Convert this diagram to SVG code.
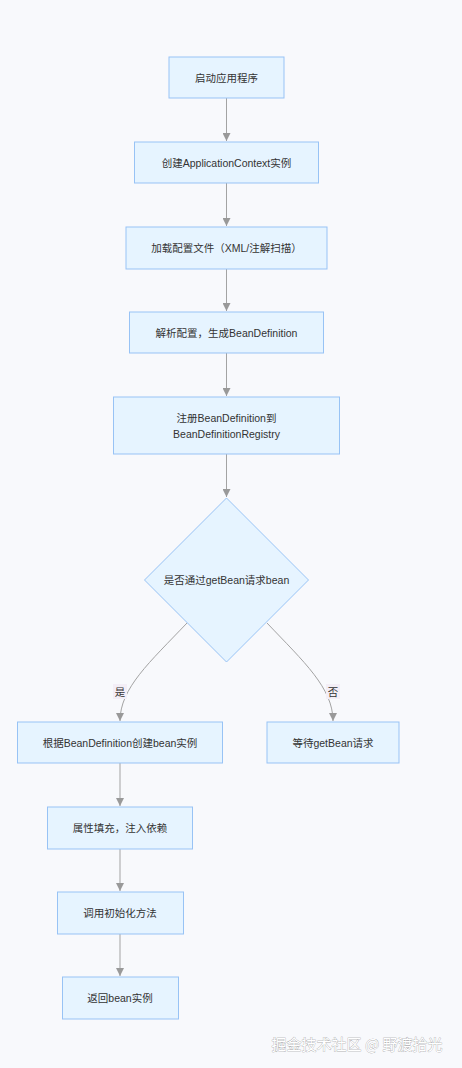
<svg xmlns="http://www.w3.org/2000/svg" width="462" height="1068" viewBox="0 0 462 1068">
<style>
.bg{fill:#f8f9fc}
.n{fill:#e6f4ff;stroke:#98c3f5;stroke-width:1}
.t{font-family:"Liberation Sans","Noto Sans CJK SC",sans-serif;font-size:10.5px;fill:#333;text-anchor:middle;dominant-baseline:central}
.e{fill:none;stroke:#a3a3a3;stroke-width:1}
.lb{fill:#f3eef6}
.wm{font-family:"Noto Sans CJK SC",sans-serif;font-size:15px;fill:#fff;stroke:#8c8c8c;stroke-width:0.5;paint-order:stroke;text-anchor:middle;dominant-baseline:central}
</style>
<defs>
<marker id="ah" viewBox="0 0 10 10" refX="10" refY="5" markerWidth="8" markerHeight="8" orient="auto" markerUnits="userSpaceOnUse">
<path d="M0,0 L10,5 L0,10 z" fill="#999"/>
</marker>
</defs>
<rect class="bg" x="0" y="0" width="462" height="1068"/>
<g id="connectors">
<path class="e" d="M226.5,98 L226.5,141" marker-end="url(#ah)"/>
<path class="e" d="M226.5,183 L226.5,226" marker-end="url(#ah)"/>
<path class="e" d="M226.5,269 L226.5,311" marker-end="url(#ah)"/>
<path class="e" d="M226.5,353 L226.5,396" marker-end="url(#ah)"/>
<path class="e" d="M226.5,454 L226.5,497" marker-end="url(#ah)"/>
<path class="e" d="M187,623 C150,662 120,688 120,721" marker-end="url(#ah)"/>
<path class="e" d="M267,623 C304,662 333,688 333,721" marker-end="url(#ah)"/>
<path class="e" d="M120,763 L120,806" marker-end="url(#ah)"/>
<path class="e" d="M120,849 L120,891" marker-end="url(#ah)"/>
<path class="e" d="M120,934 L120,976" marker-end="url(#ah)"/>
<rect class="lb" x="113" y="684" width="14" height="15"/>
<text class="t" x="120" y="691.5">是</text>
<rect class="lb" x="326" y="684" width="14" height="15"/>
<text class="t" x="333" y="691.5">否</text>
</g>
<g id="n1"><rect class="n" x="169" y="57" width="115" height="41"/><text class="t" x="226.5" y="77.5">启动应用程序</text></g>
<g id="n2"><rect class="n" x="134.5" y="142" width="184" height="41"/><text class="t" x="226.5" y="162.5">创建ApplicationContext实例</text></g>
<g id="n3"><rect class="n" x="126" y="227" width="201" height="42"/><text class="t" x="226.5" y="248">加载配置文件（XML/注解扫描）</text></g>
<g id="n4"><rect class="n" x="129.5" y="312" width="194" height="41"/><text class="t" x="226.5" y="333">解析配置，生成BeanDefinition</text></g>
<g id="n5"><rect class="n" x="113.5" y="397" width="226" height="57"/><text class="t" x="226.5" y="418">注册BeanDefinition到</text><text class="t" x="226.5" y="433.5">BeanDefinitionRegistry</text></g>
<g id="n6"><polygon class="n" points="226.5,498 308.5,580 226.5,662 144.5,580"/><text class="t" x="226.5" y="580">是否通过getBean请求bean</text></g>
<g id="n7"><rect class="n" x="17.5" y="722" width="205" height="41"/><text class="t" x="120" y="742.5">根据BeanDefinition创建bean实例</text></g>
<g id="n8"><rect class="n" x="267" y="722" width="132" height="41"/><text class="t" x="333" y="742.5">等待getBean请求</text></g>
<g id="n9"><rect class="n" x="47.5" y="807" width="145" height="42"/><text class="t" x="120" y="828">属性填充，注入依赖</text></g>
<g id="n10"><rect class="n" x="57.5" y="892" width="126" height="42"/><text class="t" x="120" y="913">调用初始化方法</text></g>
<g id="n11"><rect class="n" x="62.5" y="977" width="116" height="42"/><text class="t" x="120" y="998">返回bean实例</text></g>
<text class="wm" x="357" y="1043">掘金技术社区 @ 野渡拾光</text>
</svg>
